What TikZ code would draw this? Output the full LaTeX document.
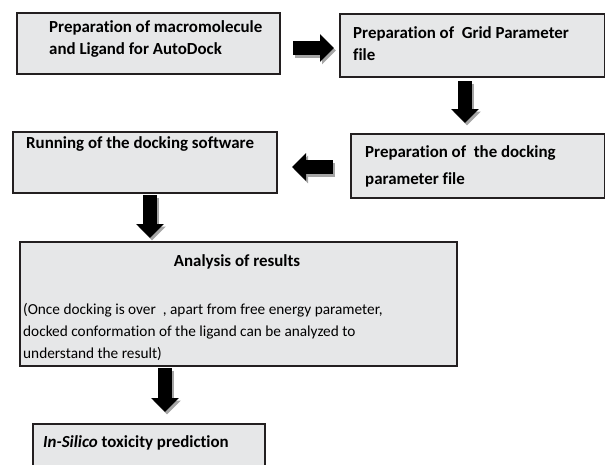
\documentclass[tikz,border=0pt]{standalone}
\usepackage{fontspec}
\setmainfont{Carlito}[Ligatures={NoCommon,NoContextual}]
\usetikzlibrary{positioning,arrows.meta,calc}

\definecolor{boxgray}{RGB}{230,231,232}
\definecolor{boxline}{RGB}{35,31,32}
\definecolor{shadegray}{RGB}{165,165,165}

% keep t and i apart (no ti ligature)
\newcommand{\nolig}{\kern0pt}

\tikzset{
  stepbox/.style={draw=boxline, line width=1.8pt, fill=boxgray, inner sep=0pt, anchor=north west},
  btxt/.style={font=\fontsize{16.9}{22}\selectfont\bfseries, inner sep=0pt, anchor=base west, align=left},
  ntxt/.style={font=\fontsize{15.3}{22}\selectfont, inner sep=0pt, anchor=base west, align=left},
  blkarrow/.style={line width=14pt, draw=black, -{Triangle[length=14pt,width=27pt]}},
  shdarrow/.style={line width=14pt, draw=shadegray, -{Triangle[length=14pt,width=27pt]},
    transform canvas={xshift=2pt,yshift=-2.5pt}},
}

\begin{document}
\begin{tikzpicture}[x=1pt, y=-1pt]

\useasboundingbox (0,0) rectangle (605,464);
\clip (0,0) rectangle (605,464);

% boxes
\node[stepbox, minimum width=263pt, minimum height=61pt] (prep) at (16,12) {};
\node[stepbox, minimum width=265pt, minimum height=63pt] (grid) at (339,13) {};
\node[stepbox, minimum width=254pt, minimum height=64pt] (dpf) at (350,133) {};
\node[stepbox, minimum width=264pt, minimum height=61pt] (run) at (12,131) {};
\node[stepbox, minimum width=437pt, minimum height=124pt] (anal) at (19,241) {};
\node[stepbox, minimum width=232pt, minimum height=70pt] (tox) at (32,423) {};

% texts (base = last line)
\node[btxt] (prep-t) at (49,54) {Preparat\nolig ion of macromolecule\\and Ligand for AutoDock};
\node[btxt] (grid-t) at (353,60) {Preparat\nolig ion of\ \ Grid Parameter\\file};
\node[btxt, font=\fontsize{16.9}{27}\selectfont\bfseries] (dpf-t) at (365,184) {Preparat\nolig ion of\ \ the docking\\parameter file};
\node[btxt] (run-t) at (26,148) {Running of the docking software};
\node[btxt, anchor=base] (anal-t) at (237,266) {Analysis of results};
\node[ntxt] (anal-b) at (23,358) {(Once docking is over\ \ , apart from free energy parameter,\\docked conformat\nolig ion of the ligand can be analyzed to\\understand the result)};
\node[btxt] (tox-t) at (43,447) {\textit{In-Silico} toxicity predict\nolig ion};

% arrow ends
\coordinate (a1s) at (293,48);
\coordinate (a1e) at (334,48);
\coordinate (a2s) at (465,81);
\coordinate (a2e) at (465,123);
\coordinate (a3s) at (333,167);
\coordinate (a3e) at (292,167);
\coordinate (a4s) at (150,195);
\coordinate (a4e) at (150,238);
\coordinate (a5s) at (165,368);
\coordinate (a5e) at (165,412);

\foreach \s/\e in {a1s/a1e, a2s/a2e, a3s/a3e, a4s/a4e, a5s/a5e} {
  \draw[shdarrow] (\s) -- (\e);
  \draw[blkarrow] (\s) -- (\e);
}

\end{tikzpicture}
\end{document}
